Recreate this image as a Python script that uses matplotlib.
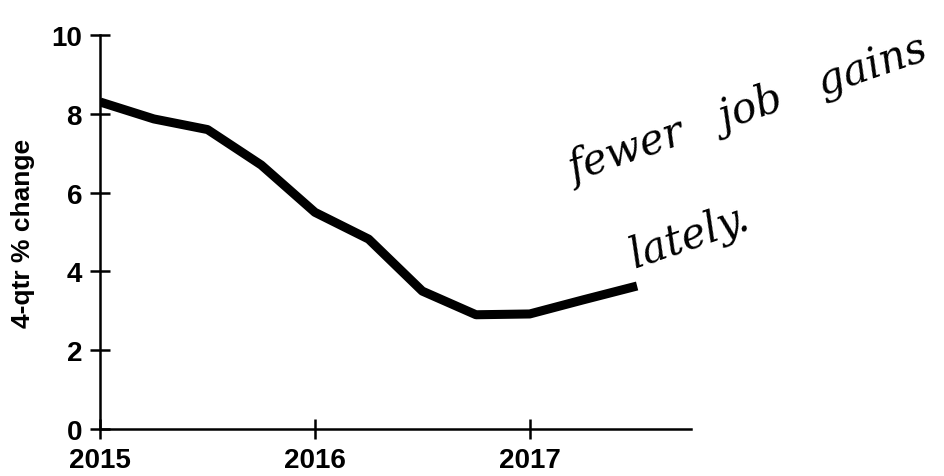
import matplotlib.pyplot as plt
import numpy as np

# quarterly data, 4-qtr % change
quarters = [2015.0, 2015.25, 2015.5, 2015.75, 2016.0, 2016.25,
            2016.5, 2016.75, 2017.0, 2017.25, 2017.5]
pct_change = [8.3, 7.87, 7.6, 6.7, 5.5, 4.82, 3.5, 2.9, 2.92, 3.28, 3.63]
year_ticks = [2015, 2016, 2017]
y_ticks = [0, 2, 4, 6, 8, 10]

plt.rcParams['font.family'] = ['Liberation Sans', 'DejaVu Sans']

fig = plt.figure(figsize=(9.45, 4.77), dpi=100)
ax = fig.add_axes([0.106, 0.0985, 0.625, 0.826])

ax.plot(quarters, pct_change, color='black', lw=6.5,
        solid_joinstyle='round', solid_capstyle='butt')

ax.set_xlim(2015, 2017.75)
ax.set_ylim(0, 10)
ax.set_xticks(year_ticks)
ax.set_xticklabels([str(y) for y in year_ticks])
ax.set_yticks(y_ticks)

for s in ['top', 'right']:
    ax.spines[s].set_visible(False)
for s in ['left', 'bottom']:
    ax.spines[s].set_linewidth(1.8)
ax.tick_params(direction='inout', length=14, width=1.8, labelsize=20)
ax.tick_params(axis='x', pad=6)
ax.tick_params(axis='y', pad=6)
for lab in ax.get_xticklabels() + ax.get_yticklabels():
    lab.set_fontweight('bold')

ax.set_ylabel('4-qtr % change', fontsize=19, fontweight='bold', labelpad=12)

# handwritten note
fig.text(0.595, 0.62, 'fewer   job   gains', fontsize=30, rotation=19,
         family='DejaVu Serif', style='italic', weight='light', color='black')
fig.text(0.66, 0.44, 'lately.', fontsize=30, rotation=19,
         family='DejaVu Serif', style='italic', weight='light', color='black')

fig.savefig('out.png', dpi=100)
